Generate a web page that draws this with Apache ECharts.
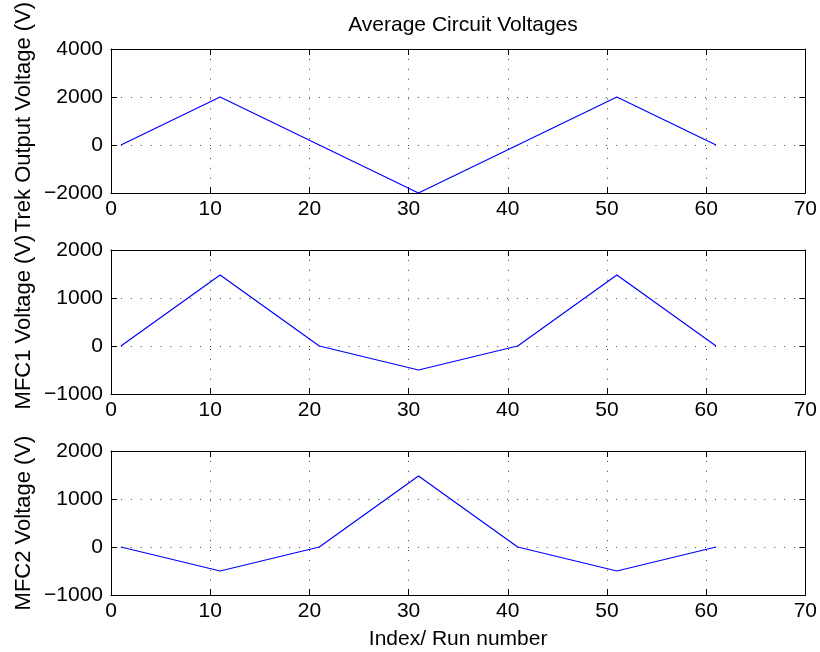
<!DOCTYPE html>
<html>
<head>
<meta charset="utf-8">
<script src="https://cdn.jsdelivr.net/npm/echarts@6/dist/echarts.min.js"></script>
<style>
  html, body { margin: 0; padding: 0; background: #fff; }
  #chart { width: 820px; height: 652px; }
</style>
</head>
<body>
<div id="chart"></div>
<script>
// Run indices and the averaged voltages at each run
const runIndex = [1, 11, 21, 31, 41, 51, 61];
const trekVoltage = [0, 2000, 0, -2000, 0, 2000, 0];
const mfc1Voltage = [0, 1480, 0, -500, 0, 1480, 0];
const mfc2Voltage = [0, -500, 0, 1480, 0, -500, 0];

const panelNames = ['Trek Output Voltage (V)', 'MFC1 Voltage (V)', 'MFC2 Voltage (V)'];
const panelSeries = [trekVoltage, mfc1Voltage, mfc2Voltage];
const yRanges = [[-2000, 4000, 2000], [-1000, 2000, 1000], [-1000, 2000, 1000]];
const xRange = [0, 70, 10];

const FONT = 'Liberation Sans, Arial, Helvetica, sans-serif';
const panelTops = [49, 250, 451];
const panelHeight = 144;
// vertical centres of the rotated y-axis titles
const yTitleCentres = [117, 322, 523];

const dotted = { color: '#444', width: 1, type: [1, 8.9] };
const tickStyle = { show: true, inside: true, length: 6, lineStyle: { color: '#000', width: 1 } };
const lineStyleAxis = { show: true, onZero: false, lineStyle: { color: '#000', width: 1 } };
// plain numbers, minus drawn as a proper minus sign
const plain = v => String(v).replace('-', '\u2212');

const grid = [], xAxis = [], yAxis = [], series = [], graphic = [];

panelSeries.forEach((vals, i) => {
  grid.push({ left: 111, right: 14, top: panelTops[i], height: panelHeight, show: false });

  // bottom x axis with labels and grid
  xAxis.push({
    gridIndex: i, type: 'value', position: 'bottom',
    min: xRange[0], max: xRange[1], interval: xRange[2],
    axisLine: lineStyleAxis, axisTick: tickStyle,
    axisLabel: { color: '#000', fontFamily: FONT, fontSize: 21, margin: 6, formatter: plain },
    splitLine: { show: true, lineStyle: dotted },
    name: i === 2 ? 'Index/ Run number' : '',
    nameLocation: 'middle', nameGap: 34,
    nameTextStyle: { color: '#000', fontFamily: FONT, fontSize: 21 }
  });
  // top x axis: box edge with inward ticks
  xAxis.push({
    gridIndex: i, type: 'value', position: 'top',
    min: xRange[0], max: xRange[1], interval: xRange[2],
    axisLine: lineStyleAxis, axisTick: tickStyle,
    axisLabel: { show: false }, splitLine: { show: false }
  });

  const [ymin, ymax, yint] = yRanges[i];
  yAxis.push({
    gridIndex: i, type: 'value', position: 'left',
    min: ymin, max: ymax, interval: yint,
    axisLine: lineStyleAxis, axisTick: tickStyle,
    axisLabel: { color: '#000', fontFamily: FONT, fontSize: 21, margin: 8, formatter: plain },
    splitLine: { show: true, lineStyle: dotted }
  });
  yAxis.push({
    gridIndex: i, type: 'value', position: 'right',
    min: ymin, max: ymax, interval: yint,
    axisLine: lineStyleAxis, axisTick: tickStyle,
    axisLabel: { show: false }, splitLine: { show: false }
  });

  // rotated y-axis title
  graphic.push({
    type: 'text',
    x: 24, y: yTitleCentres[i],
    rotation: Math.PI / 2,
    style: {
      text: panelNames[i],
      fill: '#000',
      font: '22px ' + FONT,
      align: 'center',
      verticalAlign: 'middle'
    }
  });

  series.push({
    type: 'line',
    xAxisIndex: i * 2, yAxisIndex: i * 2,
    data: runIndex.map((x, k) => [x, vals[k]]),
    showSymbol: false, symbol: 'none',
    lineStyle: { color: '#0000ff', width: 1.2 },
    animation: false
  });
});

const chart = echarts.init(document.getElementById('chart'), null, { renderer: 'canvas' });
chart.setOption({
  backgroundColor: '#fff',
  animation: false,
  title: {
    text: 'Average Circuit Voltages',
    left: 458, top: 10, textAlign: 'center',
    textStyle: { color: '#000', fontFamily: FONT, fontSize: 21, fontWeight: 'normal' }
  },
  grid, xAxis, yAxis, series, graphic
});
</script>
</body>
</html>
